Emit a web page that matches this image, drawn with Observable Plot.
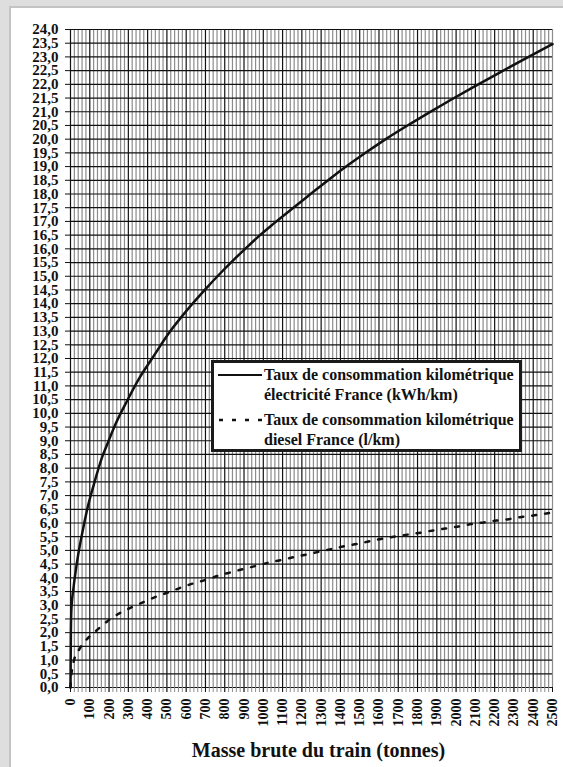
<!DOCTYPE html>
<html>
<head>
<meta charset="utf-8">
<script src="https://cdn.jsdelivr.net/npm/d3@7"></script>
<script src="https://cdn.jsdelivr.net/npm/@observablehq/plot@0.6"></script>
<style>
  html, body { margin: 0; padding: 0; background: #dedede; width: 563px; height: 767px; overflow: hidden; }
  #card { position: absolute; left: 9px; top: 6px; right: -5px; bottom: -5px; background: #fff;
          border-left: 2px solid #c4c4c4; border-top: 2px solid #c4c4c4; }
  #chart { position: absolute; left: 0; top: 0; }
  #legend { position: absolute; left: 211px; top: 360px; width: 311px; height: 92px; box-sizing: border-box;
            border: 3px solid #1a1a1a; background: #fff; font-family: "Liberation Serif", "Times New Roman", serif;
            font-weight: bold; font-size: 16px; line-height: 20px; color: #111; }
  #legend .txt { position: absolute; left: 50px; white-space: nowrap; }
  #legend svg { position: absolute; left: 4px; }
</style>
</head>
<body>
<div id="card"></div>
<div id="chart"></div>
<div id="legend">
  <svg style="top:10px" width="44" height="4"><line x1="0" x2="44" y1="2" y2="2" stroke="#111" stroke-width="2"/></svg>
  <div class="txt" style="top:2px">Taux de consommation kilométrique<br>électricité France (kWh/km)</div>
  <svg style="top:55px" width="44" height="4"><line x1="1" x2="44" y1="2" y2="2" stroke="#111" stroke-width="2.5" stroke-dasharray="4,9"/></svg>
  <div class="txt" style="top:47px">Taux de consommation kilométrique<br>diesel France (l/km)</div>
</div>
<script>
// Electricity consumption (kWh/km) vs gross train mass (tonnes)
const elecMass = [0, 2, 5, 15, 26, 40, 60, 90, 121, 164, 198, 233, 293, 354, 423, 518, 604, 699, 776, 845, 906, 983, 1052, 1156, 1242, 1346, 1449, 1536, 1639, 1760, 1855, 1967, 2087, 2226, 2381, 2500];
const elecRate = [0, 2.0, 2.9, 3.6, 4.2, 4.85, 5.6, 6.6, 7.4, 8.4, 9.0, 9.6, 10.45, 11.25, 12.0, 13.0, 13.76, 14.52, 15.1, 15.59, 16.0, 16.5, 16.91, 17.5, 17.98, 18.56, 19.1, 19.53, 20.02, 20.55, 20.95, 21.41, 21.89, 22.43, 23.02, 23.47];
// Diesel consumption (l/km) vs gross train mass (tonnes)
const dieselMass = [0, 5, 17, 47, 90, 138, 190, 250, 316, 383, 450, 512, 578, 643, 709, 771, 837, 902, 964, 1030, 1100, 1160, 1225, 1294, 1360, 1423, 1489, 1554, 1622, 1686, 1753, 1817, 1883, 1946, 2012, 2079, 2144, 2209, 2272, 2338, 2407, 2469, 2500];
const dieselRate = [0, 0.5, 0.96, 1.41, 1.80, 2.10, 2.41, 2.69, 2.92, 3.13, 3.33, 3.48, 3.66, 3.81, 3.94, 4.09, 4.21, 4.33, 4.44, 4.56, 4.66, 4.76, 4.85, 4.96, 5.06, 5.16, 5.24, 5.34, 5.43, 5.51, 5.58, 5.65, 5.73, 5.80, 5.87, 5.96, 6.02, 6.09, 6.14, 6.22, 6.28, 6.35, 6.38];

// Tick values
const xMajorTicks = d3.range(0, 2501, 100);
const xMinorTicks = d3.range(0, 2501, 20);
const yTicks = d3.range(0, 24.01, 0.5);
const xTitle = "Masse brute du train (tonnes)";

const elec = elecMass.map((m, i) => ({mass: m, rate: elecRate[i]}));
const diesel = dieselMass.map((m, i) => ({mass: m, rate: dieselRate[i]}));

const fmtY = d => d.toFixed(1).replace(".", ",");
const serif = "Liberation Serif";

const chart = Plot.plot({
  width: 563,
  height: 767,
  marginLeft: 70,
  marginRight: 11,
  marginTop: 29,
  marginBottom: 80,
  style: {background: "transparent", fontFamily: serif, fontWeight: "bold", color: "#111"},
  x: {domain: [0, 2500]},
  y: {domain: [0, 24]},
  marks: [
    Plot.gridX(xMinorTicks.filter(d => d % 100 !== 0 || d === 2500), {stroke: "#8c8c8c", strokeOpacity: 1, strokeWidth: 1.2}),
    Plot.gridX(xMajorTicks.filter(d => d < 2500), {stroke: "#111", strokeOpacity: 1, strokeWidth: 1.2}),
    Plot.gridY(yTicks, {stroke: "#111", strokeOpacity: 1, strokeWidth: 1.2}),
    Plot.axisX(xMinorTicks, {anchor: "bottom", tickSize: 5, tickFormat: () => "", stroke: "#8c8c8c", label: null}),
    Plot.axisX(xMajorTicks, {anchor: "bottom", tickSize: 5, tickPadding: 6, tickRotate: -90, tickFormat: d => String(d), fontSize: 14, fontWeight: "bold", fontFamily: serif, stroke: "#111", fill: "#111", label: null}),
    Plot.axisY(yTicks, {anchor: "left", tickSize: 5, tickPadding: 7, tickFormat: fmtY, fontSize: 15, fontWeight: "bold", fontFamily: serif, stroke: "#111", fill: "#111", label: null}),
    Plot.line(diesel, {x: "mass", y: "rate", stroke: "#111", strokeWidth: 2.5, strokeDasharray: "4,9", curve: "monotone-x"}),
    Plot.line(elec, {x: "mass", y: "rate", stroke: "#111", strokeWidth: 2.5, curve: "monotone-x"}),
    Plot.text([xTitle], {text: d => d, frameAnchor: "bottom", dy: 63, dx: 7, fontSize: 20, fontWeight: "bold", fontFamily: serif, lineAnchor: "middle", fill: "#111"})
  ]
});
document.getElementById("chart").appendChild(chart);
</script>
</body>
</html>
